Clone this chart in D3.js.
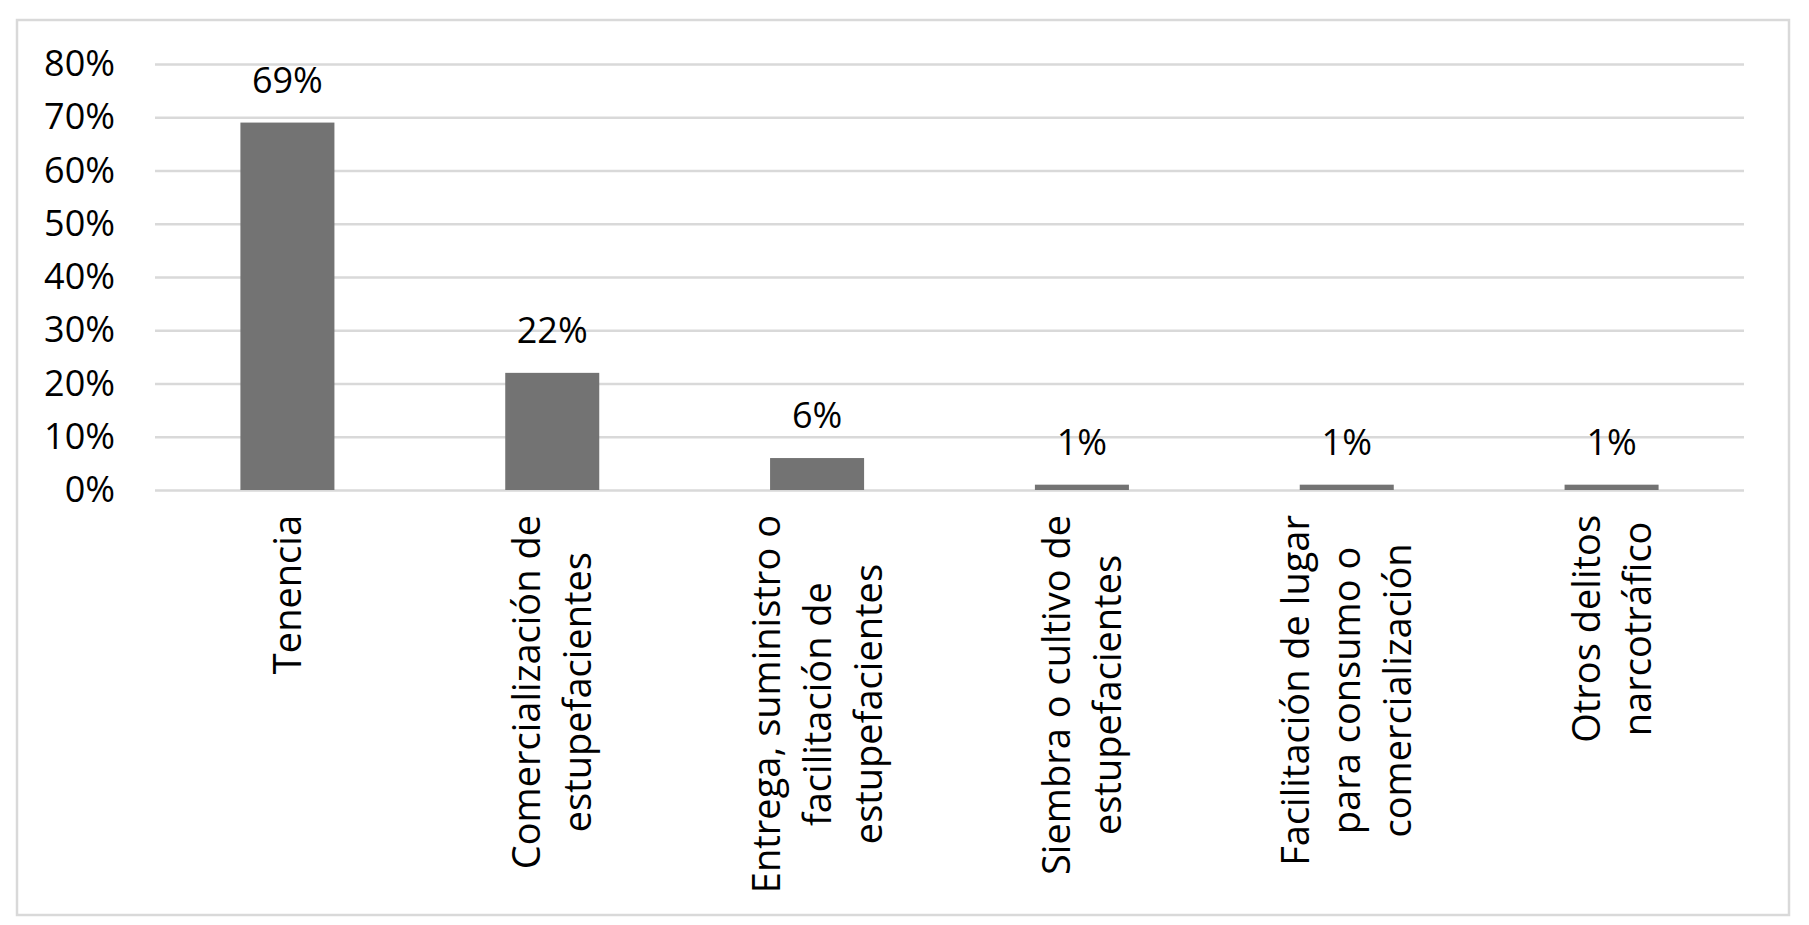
<!DOCTYPE html>
<html>
<head>
<meta charset="utf-8">
<script src="https://cdn.jsdelivr.net/npm/d3@7"></script>
<style>
  html, body { margin: 0; padding: 0; background: #ffffff; }
  svg { display: block; }
  text { font-family: "Open Sans", sans-serif; fill: #000; }
</style>
</head>
<body>
<svg id="chart" width="1809" height="925"></svg>
<script>
const categories = [
  "Tenencia",
  "Comercialización de estupefacientes",
  "Entrega, suministro o facilitación de estupefacientes",
  "Siembra o cultivo de estupefacientes",
  "Facilitación de lugar para consumo o comercialización",
  "Otros delitos narcotráfico"
];
const categoryLines = [
  ["Tenencia"],
  ["Comercialización de", "estupefacientes"],
  ["Entrega, suministro o", "facilitación de", "estupefacientes"],
  ["Siembra o cultivo de", "estupefacientes"],
  ["Facilitación de lugar", "para consumo o", "comercialización"],
  ["Otros delitos", "narcotráfico"]
];
const values = [0.69, 0.22, 0.06, 0.01, 0.01, 0.01];
const valueLabels = ["69%", "22%", "6%", "1%", "1%", "1%"];
const yTicks = [0, 0.1, 0.2, 0.3, 0.4, 0.5, 0.6, 0.7, 0.8];

(function () {
const svg = d3.select("#chart");

// outer frame
svg.append("rect")
  .attr("x", 17).attr("y", 20)
  .attr("width", 1772).attr("height", 895)
  .attr("fill", "#fff")
  .attr("stroke", "#d9d9d9")
  .attr("stroke-width", 2.5);

const plotLeft = 155, plotRight = 1744, plotTop = 64, plotBottom = 490;

const x = d3.scaleBand()
  .domain(categories)
  .range([plotLeft, plotRight])
  .paddingInner(0.645)
  .paddingOuter(0.3225);

const y = d3.scaleLinear().domain([0, 0.8]).range([plotBottom, plotTop]);

// gridlines
const grid = svg.append("g")
  .attr("transform", `translate(${plotLeft},0)`)
  .call(d3.axisLeft(y).tickValues(yTicks).tickSize(-(plotRight - plotLeft)).tickFormat(""));
grid.select(".domain").remove();
grid.selectAll(".tick line").attr("stroke", "#d9d9d9").attr("stroke-width", 2.5);

// y labels
const yAxis = svg.append("g")
  .attr("transform", `translate(${plotLeft},0)`)
  .call(d3.axisLeft(y).tickValues(yTicks).tickSize(0).tickPadding(40).tickFormat(d3.format(".0%")));
yAxis.select(".domain").remove();
yAxis.selectAll(".tick text")
  .style("font-family", "'Open Sans', sans-serif")
  .attr("font-size", 36)
  .attr("fill", "#000");

// bars
svg.append("g").selectAll("rect")
  .data(values)
  .join("rect")
  .attr("x", (d, i) => x(categories[i]))
  .attr("width", x.bandwidth())
  .attr("y", d => y(d))
  .attr("height", d => y(0) - y(d))
  .attr("fill", "#737373");

// value labels
svg.append("g").selectAll("text")
  .data(values)
  .join("text")
  .attr("x", (d, i) => x(categories[i]) + x.bandwidth() / 2)
  .attr("y", d => y(d) - 30)
  .attr("text-anchor", "middle")
  .attr("font-size", 36)
  .text((d, i) => valueLabels[i]);

// category labels (rotated, multi-line, centered lines)
const labelTop = 515;
const lineH = 51;
const fontSize = 38;
categoryLines.forEach((lines, i) => {
  const cx = x(categories[i]) + x.bandwidth() / 2;
  const g = svg.append("g");
  const t = g.append("text")
    .attr("font-size", fontSize)
    .attr("text-anchor", "middle");
  const n = lines.length;
  lines.forEach((ln, j) => {
    t.append("tspan")
      .attr("x", 0)
      .attr("y", (j - (n - 1) / 2) * lineH)
      .attr("dy", "0.36em")
      .text(ln);
  });
  let maxLen = 0;
  t.selectAll("tspan").each(function () {
    maxLen = Math.max(maxLen, this.getComputedTextLength());
  });
  g.attr("transform", `translate(${cx},${labelTop + maxLen / 2}) rotate(-90)`);
});
})();
</script>
</body>
</html>
